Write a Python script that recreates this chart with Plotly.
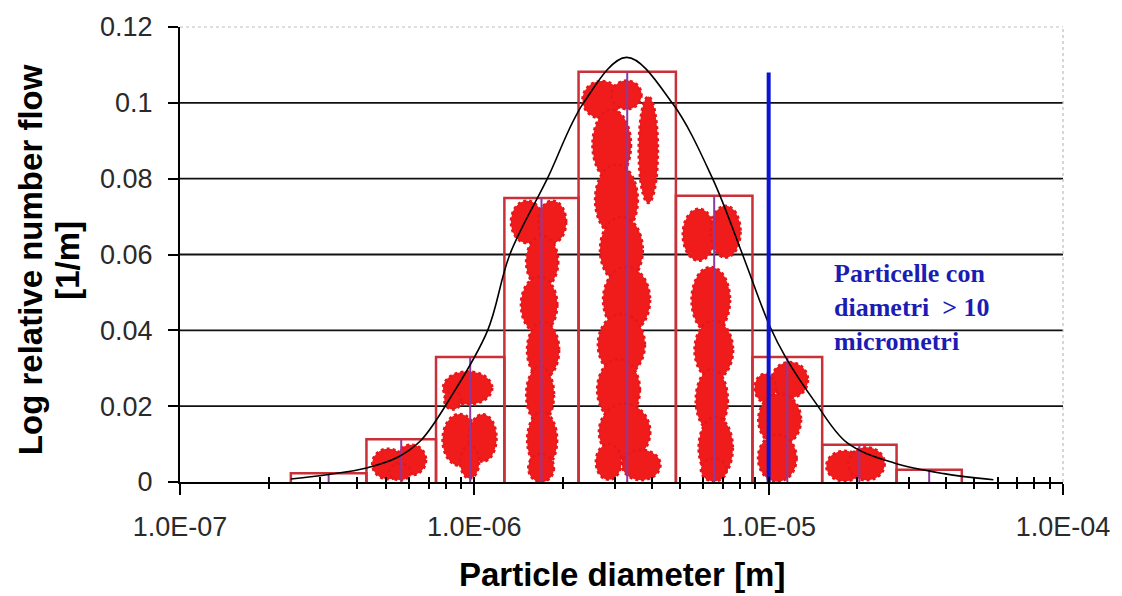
import plotly.graph_objects as go

# Histogram of the log relative number flow per diameter class
bin_edges = [2.38e-7, 4.30e-7, 7.41e-7, 1.265e-6, 2.26e-6, 4.84e-6, 8.81e-6, 1.52e-5, 2.72e-5, 4.53e-5]
bin_heights = [0.0023, 0.0113, 0.033, 0.0749, 0.1082, 0.0755, 0.033, 0.0098, 0.0032]

# Fitted distribution curve
curve_d = [2.38e-7, 3.20e-7, 4.30e-7, 5.51e-7, 6.59e-7, 8.32e-7, 1.11e-6, 1.32e-6, 1.77e-6,
           2.35e-6, 3.29e-6, 4.70e-6, 6.45e-6, 8.15e-6, 1.01e-5, 1.14e-5, 1.44e-5, 1.85e-5,
           2.67e-5, 3.94e-5, 5.80e-5]
curve_y = [0.0008, 0.002, 0.0037, 0.0066, 0.011, 0.0224, 0.040, 0.060, 0.080,
           0.100, 0.112, 0.100, 0.080, 0.060, 0.041, 0.033, 0.021, 0.0103,
           0.005, 0.0022, 0.0006]

# Particle clusters: centre diameter [m], centre height, half width [decades], half height
cluster_d = [5.10e-7, 6.10e-7, 5.60e-7,
             9.49e-7, 8.45e-7, 8.92e-7, 1.067e-6, 9.64e-7,
             1.51e-6, 1.84e-6, 1.70e-6, 1.66e-6, 1.712e-6, 1.673e-6, 1.70e-6, 1.686e-6,
             2.71e-6, 3.29e-6, 3.90e-6, 2.93e-6, 3.04e-6, 3.16e-6, 3.29e-6, 3.16e-6,
             3.09e-6, 3.24e-6, 3.69e-6, 2.86e-6,
             5.79e-6, 7.14e-6, 6.36e-6, 6.51e-6, 6.41e-6, 6.61e-6, 6.51e-6,
             1.18e-5, 9.74e-6, 1.09e-5, 1.07e-5,
             1.81e-5, 2.15e-5]
cluster_y = [0.00475, 0.0058, 0.00264,
             0.0248, 0.0216, 0.0111, 0.0116, 0.0053,
             0.0686, 0.0686, 0.0581, 0.0467, 0.0348, 0.0230, 0.0111, 0.0037,
             0.1008, 0.1021, 0.0876, 0.0889, 0.0744, 0.0612, 0.0480, 0.0362,
             0.0243, 0.0132, 0.0045, 0.0053,
             0.0652, 0.0660, 0.0480, 0.0348, 0.0216, 0.0090, 0.0032,
             0.0269, 0.0248, 0.0164, 0.0063,
             0.0042, 0.0048]
cluster_wdec = [0.0506, 0.047, 0.034,
                0.0775, 0.027, 0.054, 0.0438, 0.030,
                0.0506, 0.0438, 0.0506, 0.0573, 0.0506, 0.0438, 0.0472, 0.0404,
                0.0607, 0.0472, 0.0303, 0.0607, 0.0674, 0.0674, 0.0741, 0.0741,
                0.0674, 0.0809, 0.0607, 0.0404,
                0.0506, 0.0472, 0.0607, 0.0607, 0.0506, 0.0539, 0.0404,
                0.0573, 0.0337, 0.0674, 0.0607,
                0.0573, 0.0573]
cluster_hy = [0.00343, 0.00343, 0.00185,
              0.0037, 0.0021, 0.0058, 0.0053, 0.0037,
              0.00475, 0.00475, 0.0058, 0.0063, 0.0063, 0.0063, 0.0063, 0.0032,
              0.0042, 0.0032, 0.0119, 0.0079, 0.0079, 0.0074, 0.0074, 0.0069,
              0.0069, 0.0063, 0.0034, 0.0040,
              0.0058, 0.0058, 0.0074, 0.0066, 0.0069, 0.0069, 0.0026,
              0.0040, 0.0032, 0.0058, 0.0053,
              0.0034, 0.0037]

# 10 micrometre threshold
cutoff_d = [1e-5, 1e-5]
cutoff_y = [-0.0055, 0.108]
cutoff_text = "Particelle con<br>diametri &nbsp;> 10<br>micrometri"

x_tickvals = [1e-7, 1e-6, 1e-5, 1e-4]
x_ticktext = ["1.0E-07", "1.0E-06", "1.0E-05", "1.0E-04"]
y_tickvals = [0, 0.02, 0.04, 0.06, 0.08, 0.1, 0.12]
y_ticktext = ["0", "0.02", "0.04", "0.06", "0.08", "0.1", "0.12"]

minor_vals = [k * 10.0 ** e for e in (-7, -6, -5) for k in range(2, 10)]

SANS = "Liberation Sans, Arial, sans-serif"
SERIF = "Liberation Serif, Times New Roman, serif"
BLOB_PAD_W = 1.08   # slight overlap so neighbouring clumps merge
BLOB_PAD_H = 1.18

fig = go.Figure()

# bar outlines and class midlines
bx, by, mx, my = [], [], [], []
for lo, hi, h in zip(bin_edges[:-1], bin_edges[1:], bin_heights):
    bx += [lo, lo, hi, hi, None]
    by += [0, h, h, 0, None]
    mid = (lo * hi) ** 0.5
    mx += [mid, mid, None]
    my += [0, h, None]

fig.add_trace(go.Scatter(x=bx, y=by, mode="lines",
                         line=dict(color="#c93038", width=2.5), hoverinfo="skip"))
fig.add_trace(go.Scatter(x=mx, y=my, mode="lines",
                         line=dict(color="#8b3a9e", width=2), hoverinfo="skip"))
fig.add_trace(go.Scatter(x=curve_d, y=curve_y, mode="lines",
                         line=dict(color="black", width=1.6, shape="spline", smoothing=1.0),
                         hoverinfo="skip"))
fig.add_trace(go.Scatter(x=cutoff_d, y=cutoff_y, mode="lines", cliponaxis=False,
                         line=dict(color="#0a14d2", width=4), hoverinfo="skip"))
# companion trace carrying the inner tick marks of the x axis
fig.add_trace(go.Scatter(x=curve_d, y=curve_y, xaxis="x2", mode="lines",
                         line=dict(width=0), opacity=0, hoverinfo="skip"))

shapes = []
# horizontal grid
for v in y_tickvals[1:-1]:
    shapes.append(dict(type="line", xref="paper", yref="y", x0=0, x1=1, y0=v, y1=v,
                       line=dict(color="#111111", width=1.8), layer="below"))
# faint frame on top and right
shapes.append(dict(type="line", xref="paper", yref="paper", x0=0, x1=1, y0=1, y1=1,
                   line=dict(color="#bdbdbd", width=1.2, dash="dot"), layer="below"))
shapes.append(dict(type="line", xref="paper", yref="paper", x0=1, x1=1, y0=0, y1=1,
                   line=dict(color="#bdbdbd", width=1.2, dash="dot"), layer="below"))
# particle clusters
for d, y, w, h in zip(cluster_d, cluster_y, cluster_wdec, cluster_hy):
    w *= BLOB_PAD_W
    h *= BLOB_PAD_H
    shapes.append(dict(type="circle", xref="x", yref="y",
                       x0=d * 10 ** (-w), x1=d * 10 ** w, y0=y - h, y1=y + h,
                       fillcolor="#f01c1c", line=dict(color="#e4181c", width=2.5, dash="dot"),
                       layer="below"))

fig.update_layout(
    width=1122, height=596, autosize=False,
    margin=dict(l=180, r=52, t=27, b=114),
    paper_bgcolor="white", plot_bgcolor="white",
    showlegend=False,
    shapes=shapes,
    xaxis=dict(type="log", range=[-7, -4], tickmode="array",
               tickvals=x_tickvals, ticktext=x_ticktext,
               ticks="outside", ticklen=11, tickwidth=2, tickcolor="black",
               showline=True, linecolor="black", linewidth=2,
               showgrid=False, zeroline=False,
               minor=dict(tickmode="array", tickvals=minor_vals, ticks="outside",
                          ticklen=5, tickwidth=1.5, tickcolor="black", showgrid=False),
               tickfont=dict(family=SANS, size=27, color="#2a2a2a"),
               ticklabelstandoff=9),
    xaxis2=dict(type="log", range=[-7, -4], overlaying="x", anchor="y", side="bottom",
                tickmode="array", tickvals=x_tickvals + minor_vals,
                ticks="inside", ticklen=5, tickwidth=1.5, tickcolor="black",
                showticklabels=False, showgrid=False, showline=False, zeroline=False),
    yaxis=dict(range=[0, 0.12], tickmode="array", tickvals=y_tickvals, ticktext=y_ticktext,
               ticks="outside", ticklen=10, tickwidth=2, tickcolor="black",
               showline=True, linecolor="black", linewidth=2,
               showgrid=False, zeroline=False,
               tickfont=dict(family=SANS, size=27, color="#2a2a2a"),
               ticklabelstandoff=10),
    annotations=[
        dict(text="<b>Log relative number flow</b>", xref="paper", yref="paper",
             x=-0.1685, y=0.488, textangle=-90, showarrow=False,
             xanchor="center", yanchor="middle",
             font=dict(family=SANS, size=33, color="black")),
        dict(text="<b>[1/m]</b>", xref="paper", yref="paper",
             x=-0.127, y=0.488, textangle=-90, showarrow=False,
             xanchor="center", yanchor="middle",
             font=dict(family=SANS, size=33, color="black")),
        dict(text="<b>Particle diameter [m]</b>", xref="paper", yref="paper",
             x=0.50, y=-0.204, showarrow=False, xanchor="center", yanchor="middle",
             font=dict(family=SANS, size=33, color="black")),
        dict(text="<b>" + cutoff_text + "</b>", xref="x", yref="y",
             x=-4.786, y=0.0459, showarrow=False, xanchor="left", yanchor="middle",
             align="left", font=dict(family=SERIF, size=26, color="#1c1cb4")),
    ],
)

fig.write_html("out.html")
